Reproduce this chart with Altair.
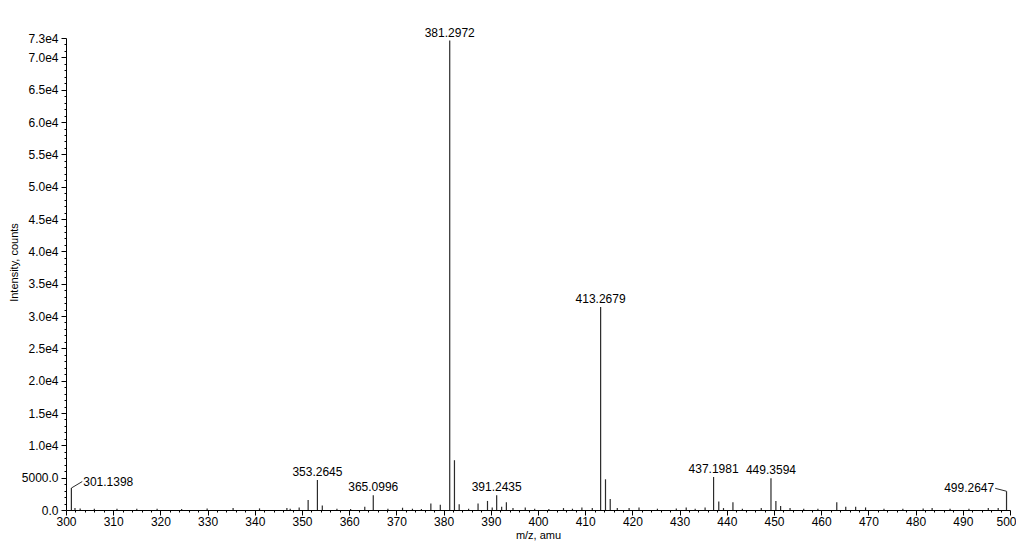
import altair as alt
import pandas as pd

# Peak list (m/z, intensity in counts)
peak_mz = [
    301.1398, 301.9, 303.0, 306.0, 310.8, 315.0, 319.3, 324.5, 329.9, 335.4,
    341.0, 346.8, 347.5, 349.4, 351.3, 353.2645, 354.3, 357.4, 360.3, 363.3,
    365.0996, 368.2, 371.3, 373.4, 375.3, 377.3, 379.3, 381.2972, 382.3, 383.3,
    385.3, 387.3, 389.3, 390.3, 391.2435, 392.3, 393.3, 394.7, 397.3, 399.3,
    402.3, 405.4, 407.3, 409.3, 411.5, 413.2679, 414.3, 415.3, 416.8, 419.3,
    421.4, 425.3, 429.3, 431.4, 433.3, 435.4, 437.1981, 438.3, 439.3, 441.3,
    443.3, 447.3, 449.3594, 450.4, 451.4, 453.4, 456.3, 459.3, 463.3, 465.2,
    467.3, 469.4, 473.3, 477.3, 481.6, 483.5, 487.3, 491.3, 495.4, 497.5,
    499.2647,
]
peak_int = [
    3400, 300, 250, 200, 200, 200, 200, 150, 250, 300,
    250, 300, 200, 400, 1550, 4640, 700, 200, 150, 500,
    2300, 200, 350, 200, 150, 1000, 800, 72600, 7700, 900,
    200, 1000, 1400, 400, 2300, 500, 1200, 300, 400, 200,
    150, 300, 200, 400, 300, 31400, 4750, 1700, 300, 300,
    400, 200, 250, 400, 200, 400, 5100, 1300, 300, 1200,
    200, 300, 4900, 1400, 600, 300, 200, 200, 1200, 500,
    500, 400, 200, 200, 250, 300, 200, 200, 300, 300,
    2900,
]

# Annotated peaks
label_mz = [353.2645, 365.0996, 381.2972, 391.2435, 413.2679, 437.1981, 449.3594]
label_txt = ["353.2645", "365.0996", "381.2972", "391.2435", "413.2679", "437.1981", "449.3594"]

# Annotated peaks drawn with a leader line
lead_mz = [301.1398, 499.2647]
lead_txt = ["301.1398", "499.2647"]

# Axis tick values
x_ticks = list(range(300, 501, 2))
y_ticks = list(range(0, 73001, 1000))

FONT = "Liberation Sans"

peaks = pd.DataFrame({"mz": peak_mz, "intensity": peak_int})
lookup = dict(zip(peak_mz, peak_int))
labels = pd.DataFrame({"mz": label_mz, "txt": label_txt,
                       "intensity": [lookup[m] for m in label_mz]})

# leader offsets (label placement, in data units)
lead_dx = {301.1398: 2.3, 499.2647: -2.4}
lead_dy = {301.1398: 1000, 499.2647: 450}
lead = pd.DataFrame({
    "mz": lead_mz,
    "txt": lead_txt,
    "intensity": [lookup[m] for m in lead_mz],
})
lead["mz2"] = [m + lead_dx[m] for m in lead_mz]
lead["int2"] = [lookup[m] + lead_dy[m] for m in lead_mz]

x_scale = alt.Scale(domain=[300, 500], nice=False, zero=False)
y_scale = alt.Scale(domain=[0, 73000], nice=False)

x_axis = alt.Axis(
    values=x_ticks, tickCount=500,
    labelExpr="datum.value % 10 === 0 ? datum.value : ''",
    tickSize={"condition": {"test": "datum.value % 10 === 0", "value": 5}, "value": 2},
    labelOffset={"condition": {"test": "datum.value === 500", "value": -4}, "value": 0},
    labelOverlap=False, labelFlush=False,
    labelFont=FONT, labelFontSize=12, labelColor="black", labelPadding=1,
    title="m/z, amu", titleFont=FONT, titleFontSize=11, titleFontWeight="normal",
    titleColor="black", titlePadding=2,
    domainColor="black", tickColor="black", grid=False,
)
y_axis = alt.Axis(
    values=y_ticks, tickCount=500,
    labelExpr=("(datum.value % 5000 === 0 || datum.value === 73000) ? "
               "(datum.value < 10000 ? format(datum.value, '.1f') : "
               "format(datum.value / 10000, '.1f') + 'e4') : ''"),
    tickSize={"condition": {"test": "datum.value % 5000 === 0 || datum.value === 73000",
                            "value": 5}, "value": 2},
    labelOverlap=False, labelFlush=False,
    labelFont=FONT, labelFontSize=12, labelColor="black", labelPadding=3,
    title="Intensity, counts", titleFont=FONT, titleFontSize=11,
    titleFontWeight="normal", titleColor="black",
    titleX=-58, titleY=224, titleBaseline="top", titleAlign="center",
    domainColor="black", tickColor="black", grid=False,
)

bars = alt.Chart(peaks).mark_rule(color="#2b2b2b", strokeWidth=1.2).encode(
    x=alt.X("mz:Q", scale=x_scale, axis=x_axis),
    y=alt.Y("intensity:Q", scale=y_scale, axis=y_axis),
    y2=alt.datum(0),
)

text = alt.Chart(labels).mark_text(
    font=FONT, fontSize=12, color="black", baseline="bottom", align="center", dy=-1
).encode(x="mz:Q", y="intensity:Q", text="txt:N")

leader = alt.Chart(lead).mark_rule(color="#2b2b2b", strokeWidth=1).encode(
    x="mz:Q", y="intensity:Q", x2="mz2:Q", y2="int2:Q"
)

lead_left = alt.Chart(lead[lead["mz"] < 400]).mark_text(
    font=FONT, fontSize=12, color="black", baseline="middle", align="left", dx=1
).encode(x="mz2:Q", y="int2:Q", text="txt:N")

lead_right = alt.Chart(lead[lead["mz"] > 400]).mark_text(
    font=FONT, fontSize=12, color="black", baseline="middle", align="right", dx=-1
).encode(x="mz2:Q", y="int2:Q", text="txt:N")

chart = alt.layer(bars, leader, text, lead_left, lead_right).properties(
    width=944, height=472,
    autosize="none",
    padding={"left": 58, "top": 30, "right": 6, "bottom": 36},
    background="white",
).configure_view(stroke=None)

chart.save("out.html", embed_options={"renderer": "svg", "actions": False})
